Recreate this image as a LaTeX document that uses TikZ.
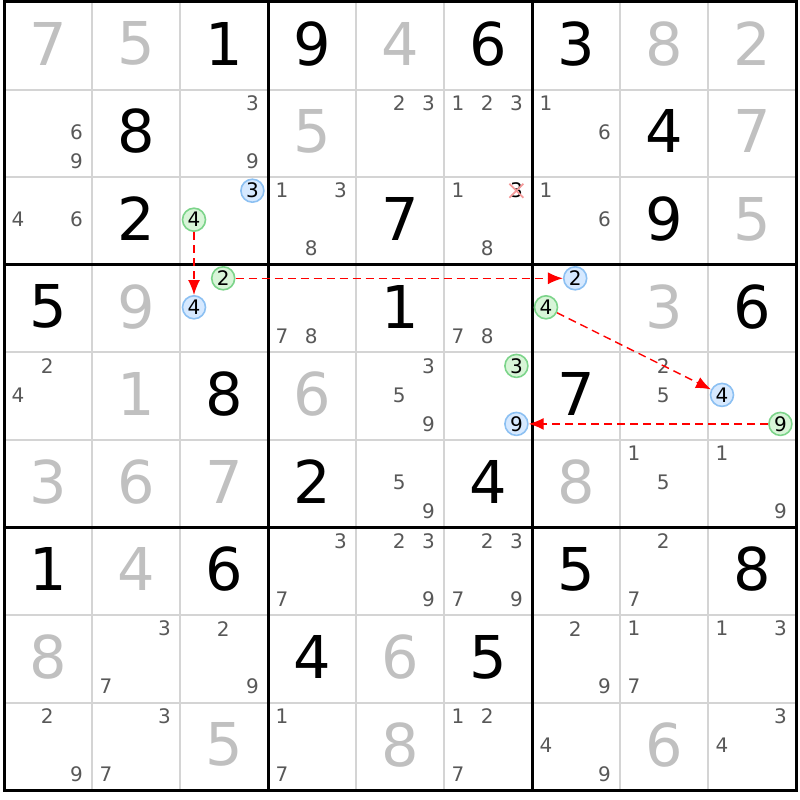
\documentclass[tikz,border=0pt]{standalone}
\usepackage{fontspec}
\setmainfont{DejaVu Sans}
\usetikzlibrary{arrows.meta}
\definecolor{thingrid}{HTML}{D4D4D4}
\definecolor{solv}{HTML}{C0C0C0}
\definecolor{candc}{HTML}{585858}
\definecolor{gfill}{HTML}{D8F5D8}
\definecolor{gline}{HTML}{7CD48A}
\definecolor{bfill}{HTML}{D6E9FF}
\definecolor{bline}{HTML}{8CC0F2}
\definecolor{xpink}{HTML}{F49A9A}
\tikzset{
  thinline/.style={draw=thingrid, line width=2pt},
  thickline/.style={draw=black, line width=3pt, line cap=rect},
  given/.style={font=\fontsize{59}{59}\selectfont, text=black, inner sep=0pt},
  solved/.style={given, text=solv},
  cand/.style={font=\fontsize{20}{20}\selectfont, text=candc, inner sep=0pt},
  gcirc/.style={cand, text=black, circle, draw=gline, fill=gfill, line width=1.6pt, minimum size=23pt, inner sep=0pt},
  bcirc/.style={gcirc, draw=bline, fill=bfill},
  xcand/.style={cand, text=black},
  xmark/.style={draw=xpink, line width=1.8pt},
  link/.style={draw=red, line width=1.4pt, dash pattern=on 8pt off 5pt, -{Latex[length=15pt,width=12pt]}}
}
\newcommand{\cnd}[4][cand]{%
  \pgfmathsetmacro\cndx{4+88*(#3-1)+14+29.2*mod(#4-1,3)}%
  \pgfmathsetmacro\cndy{2+87.6*(#2-1)+13.5+29*floor((#4-1)/3)}%
  \node[#1] (c#2#3#4) at (\cndx,\cndy) {#4};}
\newcommand{\cnds}[3]{\foreach \dd in {#3} {\cnd{#1}{#2}{\dd}}}
\newcommand{\bigdig}[4][given]{%
  \pgfmathsetmacro\bgx{4+88*(#3-1)+44}%
  \pgfmathsetmacro\bgy{2+87.6*(#2-1)+41.8}%
  \node[#1] (g#2#3) at (\bgx,\bgy) {#4};}
\begin{document}
\begin{tikzpicture}[x=1pt,y=-1pt]
\useasboundingbox (0,0) rectangle (800,800);
% thin grid
\foreach \i in {1,2,4,5,7,8} {
  \draw[thinline] ({4+88*\i},2) -- ({4+88*\i},790.4);
  \draw[thinline] (4,{2+87.6*\i}) -- (796,{2+87.6*\i});
}
\foreach \i in {3,6} {
  \draw[thickline] ({4+88*\i},2) -- ({4+88*\i},790.4);
  \draw[thickline] (4,{2+87.6*\i}) -- (796,{2+87.6*\i});
}
\draw[thickline] (4,2) rectangle (796,790.4);
% givens
\bigdig{1}{3}{1}\bigdig{1}{4}{9}\bigdig{1}{6}{6}\bigdig{1}{7}{3}
\bigdig{2}{2}{8}\bigdig{2}{8}{4}
\bigdig{3}{2}{2}\bigdig{3}{5}{7}\bigdig{3}{8}{9}
\bigdig{4}{1}{5}\bigdig{4}{5}{1}\bigdig{4}{9}{6}
\bigdig{5}{3}{8}\bigdig{5}{7}{7}
\bigdig{6}{4}{2}\bigdig{6}{6}{4}
\bigdig{7}{1}{1}\bigdig{7}{3}{6}\bigdig{7}{7}{5}\bigdig{7}{9}{8}
\bigdig{8}{4}{4}\bigdig{8}{6}{5}
% solved
\bigdig[solved]{1}{1}{7}\bigdig[solved]{1}{2}{5}\bigdig[solved]{1}{5}{4}\bigdig[solved]{1}{8}{8}\bigdig[solved]{1}{9}{2}
\bigdig[solved]{2}{4}{5}\bigdig[solved]{2}{9}{7}
\bigdig[solved]{3}{9}{5}
\bigdig[solved]{4}{2}{9}\bigdig[solved]{4}{8}{3}
\bigdig[solved]{5}{2}{1}\bigdig[solved]{5}{4}{6}
\bigdig[solved]{6}{1}{3}\bigdig[solved]{6}{2}{6}\bigdig[solved]{6}{3}{7}\bigdig[solved]{6}{7}{8}
\bigdig[solved]{7}{2}{4}
\bigdig[solved]{8}{1}{8}\bigdig[solved]{8}{5}{6}
\bigdig[solved]{9}{3}{5}\bigdig[solved]{9}{5}{8}\bigdig[solved]{9}{8}{6}
% candidates
\cnds{2}{1}{6,9}\cnds{2}{3}{3,9}\cnds{2}{5}{2,3}\cnds{2}{6}{1,2,3}\cnds{2}{7}{1,6}
\cnds{3}{1}{4,6}\cnds{3}{4}{1,3,8}\cnds{3}{6}{1,8}\cnds{3}{7}{1,6}
\cnds{4}{4}{7,8}\cnds{4}{6}{7,8}
\cnds{5}{1}{2,4}\cnds{5}{5}{3,5,9}\cnds{5}{8}{2,5}
\cnds{6}{5}{5,9}\cnds{6}{8}{1,5}\cnds{6}{9}{1,9}
\cnds{7}{4}{3,7}\cnds{7}{5}{2,3,9}\cnds{7}{6}{2,3,7,9}\cnds{7}{8}{2,7}
\cnds{8}{2}{3,7}\cnds{8}{3}{2,9}\cnds{8}{7}{2,9}\cnds{8}{8}{1,7}\cnds{8}{9}{1,3}
\cnds{9}{1}{2,9}\cnds{9}{2}{3,7}\cnds{9}{4}{1,7}\cnds{9}{6}{1,2,7}\cnds{9}{7}{4,9}\cnds{9}{9}{3,4}
% highlighted candidates
\cnd[bcirc]{3}{3}{3}\cnd[gcirc]{3}{3}{4}
\cnd[gcirc]{4}{3}{2}\cnd[bcirc]{4}{3}{4}
\cnd[bcirc]{4}{7}{2}\cnd[gcirc]{4}{7}{4}
\cnd[gcirc]{5}{6}{3}\cnd[bcirc]{5}{6}{9}
\cnd[bcirc]{5}{9}{4}\cnd[gcirc]{5}{9}{9}
% eliminated candidate
\cnd[xcand]{3}{6}{3}
\draw[xmark] ([shift={(-7,-7)}]c363.center) -- ([shift={(7,7)}]c363.center);
\draw[xmark] ([shift={(-7,7)}]c363.center) -- ([shift={(7,-7)}]c363.center);
% links
\draw[link] (c334) -- (c434);
\draw[link] (c432) -- (c472);
\draw[link] (c474) -- (c594);
\draw[link] (c599) -- (c569);
\end{tikzpicture}
\end{document}
